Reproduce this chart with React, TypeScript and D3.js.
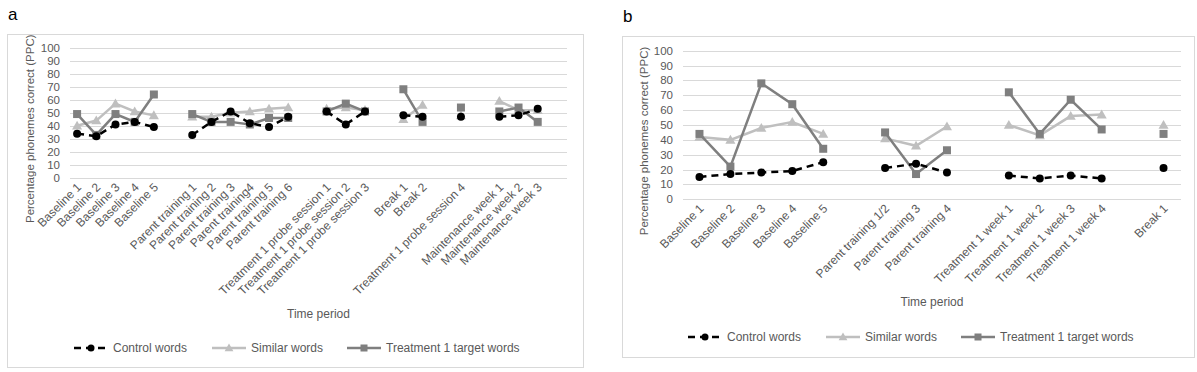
import React from 'react';
import * as d3 from 'd3';

// panel a
const catsA = ['Baseline 1', 'Baseline 2', 'Baseline 3', 'Baseline 4', 'Baseline 5', '',
  'Parent training 1', 'Parent training 2', 'Parent training 3', 'Parent training4', 'Parent training 5', 'Parent training 6', '',
  'Treatment 1 probe session 1', 'Treatment 1 probe session 2', 'Treatment 1 probe session 3', '',
  'Break 1', 'Break 2', '', 'Treatment 1 probe session 4', '',
  'Maintenance week 1', 'Maintenance week 2', 'Maintenance week 3', ''];
const controlA = [34, 32, 41, 43, 39, null, 33, 43, 51, 42, 39, 47, null, 51, 41, 51, null, 48, 47, null, 47, null, 47, 48, 53, null];
const similarA = [40, 44, 57, 51, 48, null, 47, 47, 50, 51, 53, 54, null, 53, 54, 52, null, 45, 56, null, 48, null, 59, 52, 52, null];
const targetA = [49, 33, 49, 43, 64, null, 49, 43, 43, 41, 46, 46, null, 51, 57, 51, null, 68, 43, null, 54, null, 51, 54, 43, null];

// panel b
const catsB = ['Baseline 1', 'Baseline 2', 'Baseline 3', 'Baseline 4', 'Baseline 5', '',
  'Parent training 1/2', 'Parent training 3', 'Parent training 4', '',
  'Treatment 1 week 1', 'Treatment 1 week 2', 'Treatment 1 week 3', 'Treatment 1 week 4', '', 'Break 1'];
const controlB = [15, 17, 18, 19, 25, null, 21, 24, 18, null, 16, 14, 16, 14, null, 21];
const similarB = [42, 40, 48, 52, 44, null, 41, 36, 49, null, 50, 43, 56, 57, null, 50];
const targetB = [44, 22, 78, 64, 34, null, 45, 17, 33, null, 72, 44, 67, 47, null, 44];

const yTicks = [0, 10, 20, 30, 40, 50, 60, 70, 80, 90, 100];
const seriesNames = ['Control words', 'Similar words', 'Treatment 1 target words'];

const FONT = '"Liberation Sans", Arial, sans-serif';
const TXT = '#595959';
const GRID = '#d9d9d9';
const COLORS = ['#000000', '#bfbfbf', '#7f7f7f'];

type Num = number | null;

function Marker({ kind, x, y, s }: { kind: number; x: number; y: number; s: number }) {
  if (kind === 0) return <circle cx={x} cy={y} r={s * 0.5} fill={COLORS[0]} />;
  if (kind === 1) {
    const h = s * 1.05;
    return <path d={`M${x},${y - h * 0.6}L${x + h * 0.6},${y + h * 0.45}L${x - h * 0.6},${y + h * 0.45}Z`} fill={COLORS[1]} />;
  }
  return <rect x={x - s * 0.5} y={y - s * 0.5} width={s} height={s} fill={COLORS[2]} />;
}

function Panel(props: {
  label: string; frame: [number, number, number, number];
  cats: string[]; series: Num[][];
  grid: [number, number]; xr: [number, number]; yr: [number, number];
  fs: number; ms: number; titleX: number; timeY: number; legendY: number; legendX: number[];
}) {
  const { cats, series, fs, ms } = props;
  const x = d3.scaleBand<number>().domain(cats.map((_, i) => i)).range(props.xr);
  const y = d3.scaleLinear().domain([0, 100]).range(props.yr);
  const cx = (i: number) => (x(i) as number) + x.bandwidth() / 2;
  const line = d3.line<Num>()
    .defined(d => d !== null)
    .x((_, i) => cx(i))
    .y(d => y(d as number));
  const [fx0, fy0, fx1, fy1] = props.frame;
  const midY = (props.yr[0] + props.yr[1]) / 2 + 16;
  return (
    <g>
      <text x={fx0 + 1} y={fy0 - 14} fontSize={17} fontFamily={FONT} fill="#000">{props.label}</text>
      <rect x={fx0 + 0.5} y={fy0 + 0.5} width={fx1 - fx0} height={fy1 - fy0} fill="#fff" stroke={GRID} />
      {yTicks.map(t => (
        <g key={t}>
          <line x1={props.grid[0]} x2={props.grid[1]} y1={Math.round(y(t)) + 0.5} y2={Math.round(y(t)) + 0.5} stroke={GRID} />
          <text x={props.grid[0] - 10} y={y(t)} dy="0.35em" textAnchor="end" fontSize={fs - 0.5} fontFamily={FONT} fill={TXT}>{t}</text>
        </g>
      ))}
      {cats.map((c, i) => c ? (
        <text key={i} transform={`translate(${cx(i) + 5},${props.yr[0] + 10}) rotate(-45)`} textAnchor="end"
          fontSize={fs} fontFamily={FONT} fill={TXT}>{c}</text>
      ) : null)}
      <text transform={`translate(${props.titleX},${midY}) rotate(-90)`} textAnchor="middle" fontSize={fs - 0.5} fontFamily={FONT} fill={TXT}>
        Percentage phonemes correct (PPC)
      </text>
      <text x={(props.grid[0] + props.grid[1]) / 2} y={props.timeY} textAnchor="middle" fontSize={fs} fontFamily={FONT} fill={TXT}>Time period</text>
      {[1, 2, 0].map(k => (
        <g key={k}>
          <path d={line(series[k]) || ''} fill="none" stroke={COLORS[k]} strokeWidth={2.5}
            strokeDasharray={k === 0 ? '7,5' : undefined} />
          {series[k].map((v, i) => v === null ? null : <Marker key={i} kind={k} x={cx(i)} y={y(v)} s={ms} />)}
        </g>
      ))}
      {seriesNames.map((n, k) => {
        const lx = props.legendX[k];
        return (
          <g key={n}>
            <line x1={lx} x2={lx + 34} y1={props.legendY} y2={props.legendY} stroke={COLORS[k]} strokeWidth={2.5}
              strokeDasharray={k === 0 ? '7,5' : undefined} />
            <Marker kind={k} x={lx + 17} y={props.legendY} s={ms - 1} />
            <text x={lx + 39} y={props.legendY} dy="0.35em" fontSize={fs} fontFamily={FONT} fill={TXT}>{n}</text>
          </g>
        );
      })}
    </g>
  );
}

export default function App() {
  return (
    <svg width={1197} height={372} style={{ position: 'absolute', left: 0, top: 0, background: '#fff' }}>
      <rect width={1197} height={372} fill="#fff" />
      <Panel label="a" frame={[7, 34, 583, 367]} cats={catsA} series={[controlA, similarA, targetA]}
        grid={[70, 567]} xr={[67.5, 566.5]} yr={[178, 47.5]} fs={12} ms={8}
        titleX={34} timeY={318} legendY={348} legendX={[74, 212, 347]} />
      <Panel label="b" frame={[622, 36, 1194, 357]} cats={catsB} series={[controlB, similarB, targetB]}
        grid={[683, 1181]} xr={[684, 1179]} yr={[199.3, 50.7]} fs={12} ms={8}
        titleX={648} timeY={306} legendY={337} legendX={[688, 826, 961]} />
    </svg>
  );
}
